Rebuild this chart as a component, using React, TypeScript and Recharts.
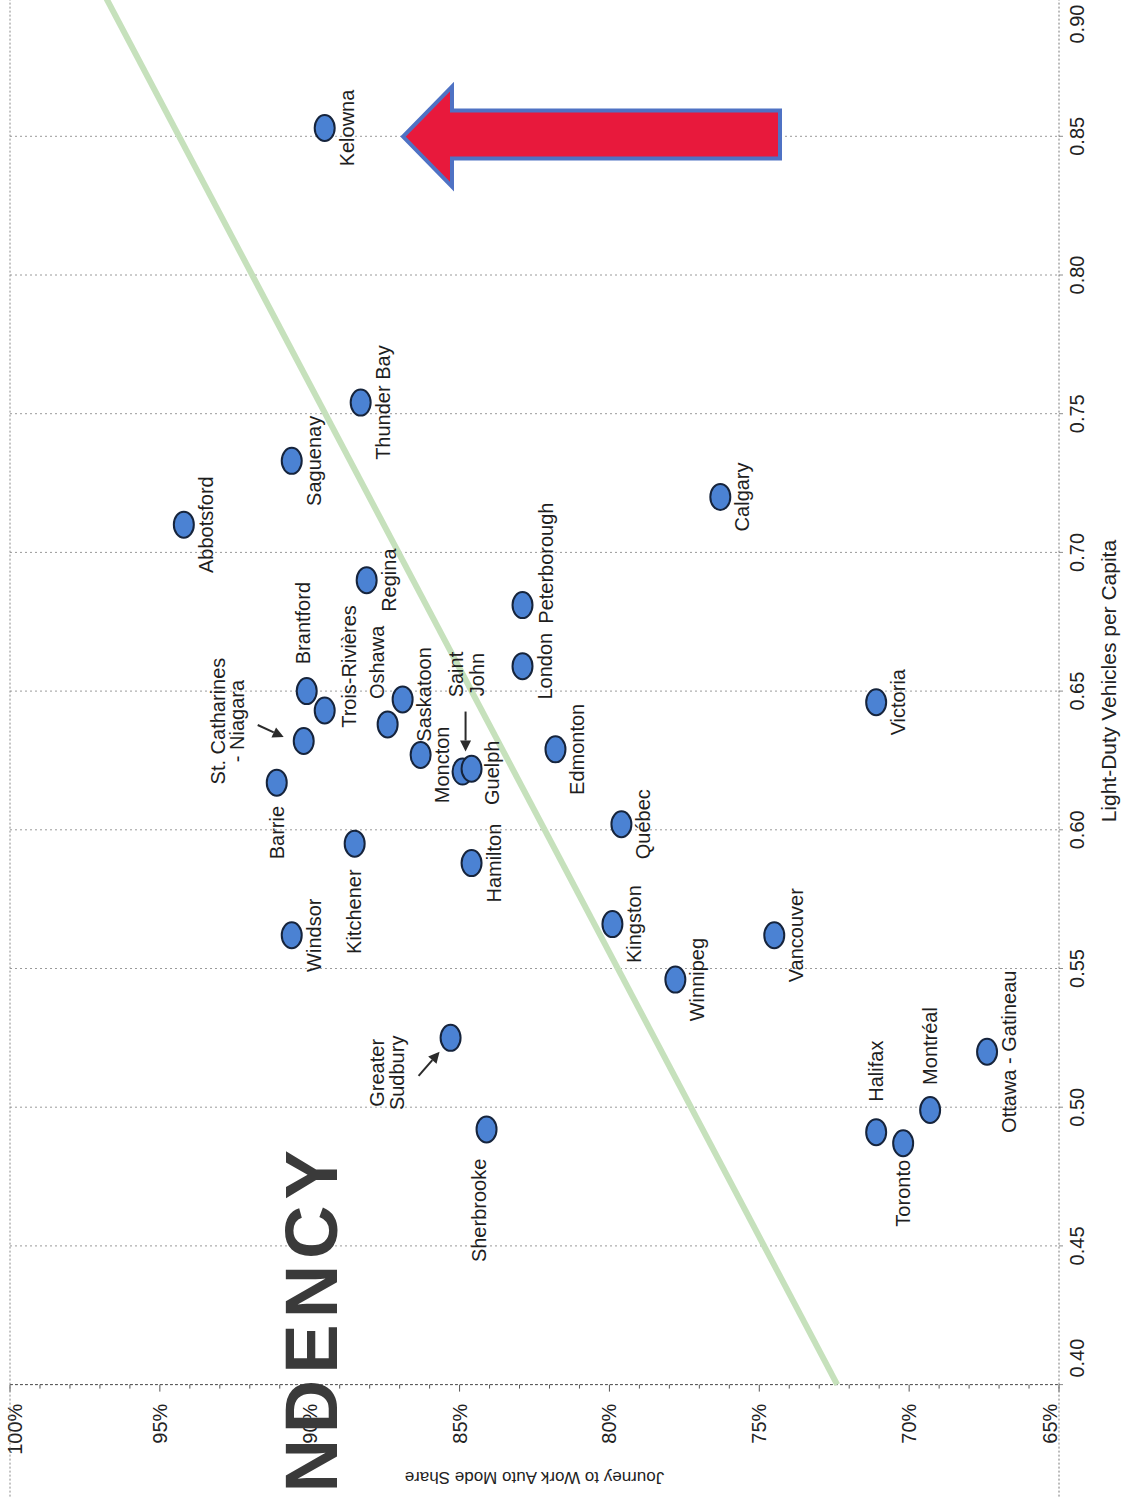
import React from 'react';
import { ScatterChart, Scatter, XAxis, YAxis, CartesianGrid } from 'recharts';

// city labels ('\n' = two line label)
const cities = [
  'Kelowna', 'Thunder Bay', 'Saguenay', 'Abbotsford', 'Calgary', 'Regina', 'Peterborough', 'London',
  'Brantford', 'Trois-Rivières', 'Oshawa', 'Saskatoon', 'St. Catharines\n- Niagara', 'Victoria', 'Moncton',
  'Edmonton', 'Saint\nJohn', 'Guelph', 'Barrie', 'Québec', 'Kitchener', 'Hamilton', 'Windsor', 'Kingston',
  'Vancouver', 'Winnipeg', 'Greater\nSudbury', 'Ottawa - Gatineau', 'Montréal', 'Halifax', 'Toronto', 'Sherbrooke',
];
const vehiclesPerCapita = [
  0.853, 0.754, 0.733, 0.710, 0.720, 0.690, 0.681, 0.659,
  0.650, 0.643, 0.638, 0.647, 0.632, 0.646, 0.627,
  0.629, 0.621, 0.622, 0.617, 0.602, 0.595, 0.588, 0.562, 0.566,
  0.562, 0.546, 0.525, 0.520, 0.499, 0.491, 0.487, 0.492,
];
const autoModeShare = [
  89.5, 88.3, 90.6, 94.2, 76.3, 88.1, 82.9, 82.9,
  90.1, 89.5, 87.4, 86.9, 90.2, 71.1, 86.3,
  81.8, 84.9, 84.6, 91.1, 79.6, 88.5, 84.6, 90.6, 79.9,
  74.5, 77.8, 85.3, 67.4, 69.3, 71.1, 70.2, 84.1,
];
const vehicleTicks = [0.4, 0.45, 0.5, 0.55, 0.6, 0.65, 0.7, 0.75, 0.8, 0.85, 0.9];
const shareTicks = [
  65, 66, 67, 68, 69, 70, 71, 72, 73, 74, 75, 76, 77, 78, 79, 80, 81, 82,
  83, 84, 85, 86, 87, 88, 89, 90, 91, 92, 93, 94, 95, 96, 97, 98, 99, 100,
];
const trendVehicles = [0.4, 0.9];
const trendShare = [72.4, 96.8];

const points = cities.map((name, i) => ({ name, v: vehiclesPerCapita[i], s: autoModeShare[i] }));
const trend = trendVehicles.map((v, i) => ({ v, s: trendShare[i] }));

const FONT = '"Liberation Sans", Arial, Helvetica, sans-serif';
const W = 1520;
const H = 1123;

// label offsets from the dot (px, chart drawn landscape and turned afterwards)
const nudge: Record<string, { dx: number; dy: number; gap?: number }> = {
  'Brantford': { dx: 68, dy: -4 },
  'Trois-Rivières': { dx: 44, dy: 24 },
  'Oshawa': { dx: 62, dy: -11 },
  'Saskatoon': { dx: 5, dy: 21 },
  'Moncton': { dx: -10, dy: 21 },
  'Guelph': { dx: -4, dy: 20 },
  'Peterborough': { dx: 42, dy: 23 },
  'Barrie': { dx: -50, dy: 0 },
  'Kitchener': { dx: -68, dy: -1 },
  'Sherbrooke': { dx: -81, dy: -8 },
  'Halifax': { dx: 61, dy: 0 },
  'Toronto': { dx: -50, dy: 0 },
  'Montréal': { dx: 64, dy: 0 },
  'St. Catharines\n- Niagara': { dx: 20, dy: -86, gap: 19 },
  'Saint\nJohn': { dx: 97, dy: -7, gap: 21 },
  'Greater\nSudbury': { dx: -35, dy: -74, gap: 20 },
};

// little black pointer arrows: [x1, y1, x2, y2] relative to the dot
const pointers: Record<string, number[]> = {
  'St. Catharines\n- Niagara': [16, -46, 4, -20],
  'Saint\nJohn': [60, 3, 20, 3],
  'Greater\nSudbury': [-38, -32, -14, -11],
};

const Pointer = ({ x1, y1, x2, y2 }: { x1: number; y1: number; x2: number; y2: number }) => {
  const len = Math.hypot(x2 - x1, y2 - y1);
  const ux = (x2 - x1) / len;
  const uy = (y2 - y1) / len;
  const bx = x2 - ux * 11;
  const by = y2 - uy * 11;
  return (
    <g>
      <line x1={x1} y1={y1} x2={bx} y2={by} stroke="#2b2b2b" strokeWidth={2} />
      <polygon
        points={`${x2},${y2} ${bx - uy * 5.5},${by + ux * 5.5} ${bx + uy * 5.5},${by - ux * 5.5}`}
        fill="#2b2b2b"
      />
    </g>
  );
};

const CityDot = (props: any) => {
  const { cx, cy, payload } = props;
  if (cx == null || cy == null) return <g />;
  const n = nudge[payload.name] || { dx: 0, dy: 22 };
  const lines: string[] = payload.name.split('\n');
  const p = pointers[payload.name];
  return (
    <g>
      <ellipse cx={cx} cy={cy} rx={13} ry={10} fill="#4b82d3" stroke="#16243c" strokeWidth={2} />
      {lines.map((t, i) => (
        <text
          key={i}
          x={cx + n.dx}
          y={cy + n.dy + i * (n.gap || 20)}
          textAnchor="middle"
          dominantBaseline="central"
          fontSize={20}
          fontFamily={FONT}
          fill="#1e1e1e"
        >
          {t}
        </text>
      ))}
      {p && <Pointer x1={cx + p[0]} y1={cy + p[1]} x2={cx + p[2]} y2={cy + p[3]} />}
    </g>
  );
};

const XTick = (props: any) => {
  const { x, y, payload, index } = props;
  const last = vehicleTicks.length - 1;
  const anchor = index === 0 ? 'start' : index === last ? 'end' : 'middle';
  const tx = index === 0 ? x + 7 : index === last ? x - 7 : x;
  return (
    <g>
      <line x1={x} x2={x} y1={y} y2={y + 4} stroke="#8c8c8c" />
      <text x={tx} y={y + 18} dominantBaseline="central" textAnchor={anchor} fontSize={20} fontFamily={FONT} fill="#222">
        {Number(payload.value).toFixed(2)}
      </text>
    </g>
  );
};

const YTick = (props: any) => {
  const { x, y, payload } = props;
  const v = payload.value;
  const major = v % 5 === 0;
  const shift = v === 100 ? 5 : v === 65 ? -9 : 0;
  return (
    <g>
      <line x1={x - (major ? 7 : 4)} x2={x} y1={y} y2={y} stroke="#555" />
      {major && (
        <text x={x - 19} y={y + shift} dominantBaseline="central" textAnchor="end" fontSize={20} fontFamily={FONT} fill="#222">
          {v}%
        </text>
      )}
    </g>
  );
};

const XTitle = (props: any) => {
  const vb = props.viewBox;
  return (
    <text x={vb.x + vb.width / 2 + 10} y={vb.y + 49} textAnchor="middle" dominantBaseline="central" fontSize={21} fontFamily={FONT} fill="#222">
      Light-Duty Vehicles per Capita
    </text>
  );
};

const YTitle = (props: any) => {
  const vb = props.viewBox;
  const cy = vb.y + vb.height / 2;
  return (
    <text
      x={27}
      y={cy}
      transform={`rotate(-90 27 ${cy})`}
      textAnchor="middle"
      dominantBaseline="central"
      fontSize={17}
      fontFamily={FONT}
      fill="#222"
    >
      Journey to Work Auto Mode Share
    </text>
  );
};

export default function App() {
  return (
    <div style={{ position: 'fixed', left: 0, top: 0, width: 1123, height: 1503, overflow: 'hidden', background: '#fff' }}>
      <div
        style={{
          position: 'absolute',
          left: 0,
          top: 0,
          width: W,
          height: H,
          transformOrigin: '0 0',
          transform: 'translate(0px, 1504.6px) rotate(-90deg)',
        }}
      >
        <ScatterChart width={W} height={H} margin={{ top: 10, right: 13, bottom: 0, left: 0 }}>
          <CartesianGrid horizontal={false} stroke="#9a9a9a" strokeDasharray="2 3" />
          <XAxis
            type="number"
            dataKey="v"
            domain={[0.4, 0.9]}
            ticks={vehicleTicks}
            interval={0}
            height={64}
            axisLine={false}
            tickLine={false}
            tickSize={0}
            tickMargin={0}
            tick={<XTick />}
            label={(p: any) => <XTitle {...p} />}
          />
          <YAxis
            type="number"
            dataKey="s"
            domain={[65, 100]}
            ticks={shareTicks}
            interval={0}
            width={120}
            axisLine={{ stroke: '#555', strokeDasharray: '3 2' }}
            tickLine={false}
            tickSize={0}
            tickMargin={0}
            tick={<YTick />}
            label={(p: any) => <YTitle {...p} />}
          />
          <Scatter
            data={trend}
            line={{ stroke: '#c6e1bc', strokeWidth: 6 }}
            shape={() => <g />}
            isAnimationActive={false}
          />
          <Scatter data={points} shape={(p: any) => <CityDot {...p} />} isAnimationActive={false} />
        </ScatterChart>
        <svg width={W} height={H} style={{ position: 'absolute', left: 0, top: 0, pointerEvents: 'none' }}>
          <line x1={8} x2={W} y1={10} y2={10} stroke="#8a8a8a" strokeDasharray="2 2" />
          <line x1={8} x2={W} y1={1059} y2={1059} stroke="#7a7a7a" strokeDasharray="2 2" />
          <polygon
            points="1368,403 1418,452 1394,452 1394,780 1346,780 1346,452 1318,452"
            fill="#e8193c"
            stroke="#4f72c4"
            strokeWidth={4}
            strokeLinejoin="miter"
          />
          <text x={12} y={337} fontSize={74} fontWeight={700} letterSpacing={6} fontFamily={FONT} fill="#3a3a3a">
            NDENCY
          </text>
        </svg>
      </div>
    </div>
  );
}
